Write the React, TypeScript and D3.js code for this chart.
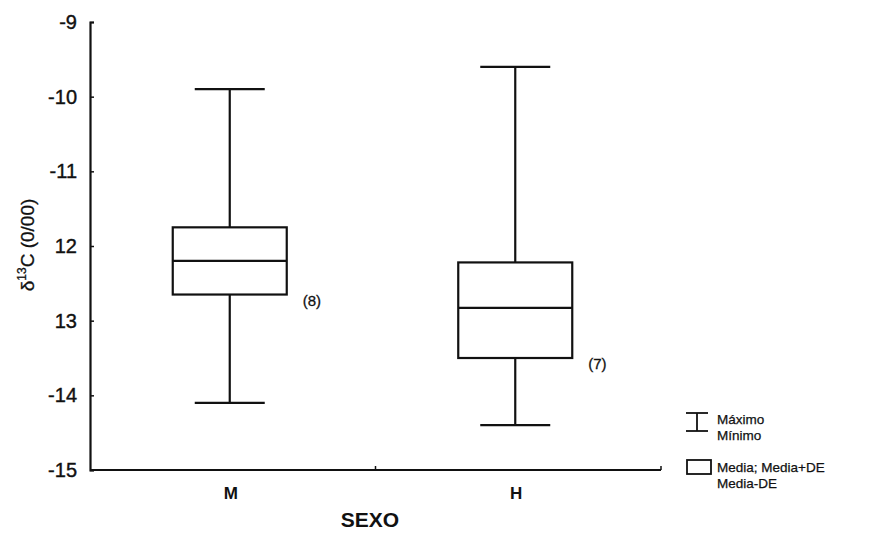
import React, { useEffect, useRef } from "react";
import * as d3 from "d3";

// groups and box statistics (mean, mean +/- SD, min, max)
const groups = ["M", "H"];
const maxVals = [-9.9, -9.6];
const sdUpper = [-11.75, -12.22];
const means = [-12.2, -12.83];
const sdLower = [-12.65, -13.5];
const minVals = [-14.1, -14.4];
const counts = ["(8)", "(7)"];

const yTicks = [-9, -10, -11, -12, -13, -14, -15];
const yTickLabels = ["-9", "-10", "-11", "12", "13", "-14", "-15"];

export default function App() {
  const ref = useRef<SVGSVGElement>(null);

  useEffect(() => {
    const svg = d3.select(ref.current);
    svg.selectAll("*").remove();

    const left = 90, right = 661, top = 22, bottom = 470;
    const font = "'Liberation Sans', Arial, sans-serif";
    const ink = "#111";

    const y = d3.scaleLinear().domain([-15, -9]).range([bottom, top]);
    const x = d3.scaleBand().domain(groups).range([left, right]);

    const g = svg.append("g");

    // y axis
    const yAxis = d3.axisLeft(y)
      .tickValues(yTicks)
      .tickSize(-4)
      .tickPadding(13)
      .tickFormat((d, i) => yTickLabels[i]);
    const ya = g.append("g").attr("transform", `translate(${left},0)`).call(yAxis);
    ya.select(".domain").attr("stroke", ink).attr("stroke-width", 2.2);
    ya.selectAll(".tick line").attr("stroke", ink).attr("stroke-width", 1.5);
    ya.selectAll(".tick text")
      .attr("font-family", font).attr("font-size", 20).attr("fill", ink)
      .attr("stroke", ink).attr("stroke-width", 0.4);

    // x axis
    const xa = g.append("g").attr("transform", `translate(0,${bottom})`);
    xa.append("line").attr("x1", left).attr("x2", right).attr("stroke", ink).attr("stroke-width", 2.2);
    xa.append("line").attr("x1", x("H")!).attr("x2", x("H")!).attr("y1", 0).attr("y2", -4)
      .attr("stroke", ink).attr("stroke-width", 1.5);
    xa.append("line").attr("x1", right).attr("x2", right).attr("y1", 0).attr("y2", -4)
      .attr("stroke", ink).attr("stroke-width", 1.5);
    xa.selectAll("text.cat").data(groups).enter().append("text")
      .attr("class", "cat")
      .attr("x", d => x(d)! + x.bandwidth() / 2 - 2)
      .attr("y", 29)
      .attr("text-anchor", "middle")
      .attr("font-family", font).attr("font-size", 17).attr("font-weight", "bold").attr("fill", ink)
      .text(d => d);

    // boxes
    const boxW = 114, capW = 70;
    const box = g.selectAll("g.box").data(groups).enter().append("g").attr("class", "box")
      .attr("transform", d => `translate(${x(d)! + x.bandwidth() / 2 - 3},0)`);

    const stroke = (s: any) => s.attr("stroke", ink).attr("stroke-width", 2.2).attr("fill", "none");

    box.append("line").attr("x1", 0).attr("x2", 0)
      .attr("y1", (d, i) => y(maxVals[i])).attr("y2", (d, i) => y(sdUpper[i])).call(stroke);
    box.append("line").attr("x1", 0).attr("x2", 0)
      .attr("y1", (d, i) => y(sdLower[i])).attr("y2", (d, i) => y(minVals[i])).call(stroke);
    box.append("line").attr("x1", -capW / 2).attr("x2", capW / 2)
      .attr("y1", (d, i) => y(maxVals[i])).attr("y2", (d, i) => y(maxVals[i])).call(stroke);
    box.append("line").attr("x1", -capW / 2).attr("x2", capW / 2)
      .attr("y1", (d, i) => y(minVals[i])).attr("y2", (d, i) => y(minVals[i])).call(stroke);
    box.append("rect").attr("x", -boxW / 2).attr("width", boxW)
      .attr("y", (d, i) => y(sdUpper[i]))
      .attr("height", (d, i) => y(sdLower[i]) - y(sdUpper[i]))
      .call(stroke).attr("fill", "#fff");
    box.append("line").attr("x1", -boxW / 2).attr("x2", boxW / 2)
      .attr("y1", (d, i) => y(means[i])).attr("y2", (d, i) => y(means[i])).call(stroke);
    box.append("text")
      .attr("x", boxW / 2 + 16)
      .attr("y", (d, i) => y(sdLower[i]) + 11)
      .attr("font-family", font).attr("font-size", 15).attr("fill", ink)
      .attr("stroke", ink).attr("stroke-width", 0.3)
      .text((d, i) => counts[i]);

    // axis titles
    svg.append("text")
      .attr("transform", "translate(34,245) rotate(-90)")
      .attr("text-anchor", "middle")
      .attr("font-family", font).attr("font-size", 19).attr("fill", ink)
      .attr("stroke", ink).attr("stroke-width", 0.3)
      .call(t => {
        t.append("tspan").text("δ");
        t.append("tspan").attr("font-size", 12).attr("dy", -8).text("13");
        t.append("tspan").attr("dy", 8).text("C (0/00)");
      });
    svg.append("text")
      .attr("x", 370).attr("y", 527).attr("text-anchor", "middle")
      .attr("font-family", font).attr("font-size", 21).attr("font-weight", "bold").attr("fill", ink)
      .text("SEXO");

    // legend
    const lg = svg.append("g").attr("transform", "translate(686,0)");
    lg.append("line").attr("x1", 0).attr("x2", 22).attr("y1", 413).attr("y2", 413).call(stroke).attr("stroke-width", 1.8);
    lg.append("line").attr("x1", 0).attr("x2", 22).attr("y1", 431).attr("y2", 431).call(stroke).attr("stroke-width", 1.8);
    lg.append("line").attr("x1", 11).attr("x2", 11).attr("y1", 413).attr("y2", 431).call(stroke).attr("stroke-width", 1.8);
    lg.append("rect").attr("x", 1).attr("y", 460).attr("width", 24).attr("height", 14).call(stroke).attr("stroke-width", 1.8);
    const legText = [["Máximo", 424], ["Mínimo", 440], ["Media; Media+DE", 472], ["Media-DE", 488]] as const;
    legText.forEach(([t, yy]) => {
      lg.append("text").attr("x", 31).attr("y", yy)
        .attr("font-family", font).attr("font-size", 13.5).attr("fill", ink)
        .attr("stroke", ink).attr("stroke-width", 0.25).text(t);
    });
  }, []);

  return (
    <svg ref={ref} width={872} height={541} style={{ position: "absolute", left: 0, top: 0, background: "#fff" }} />
  );
}
